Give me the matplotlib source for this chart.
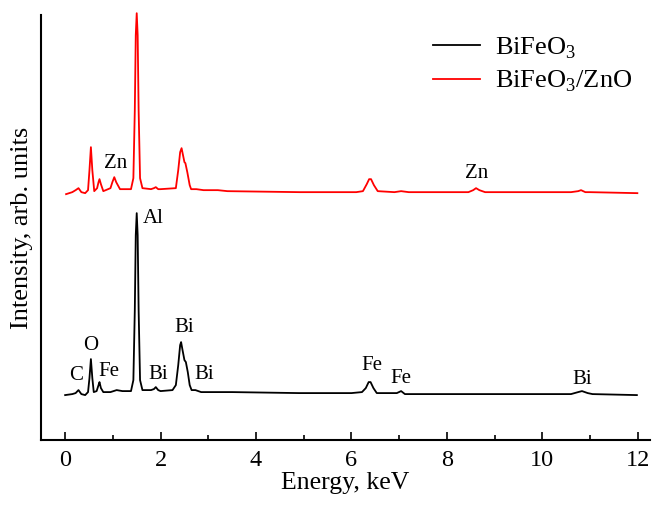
import numpy as np
import matplotlib
matplotlib.use("Agg")
import matplotlib.pyplot as plt

plt.rcParams['font.family'] = ['Liberation Serif', 'DejaVu Serif']
plt.rcParams['mathtext.fontset'] = 'custom'
plt.rcParams['mathtext.rm'] = 'Liberation Serif'

# BiFeO3 spectrum (energy keV, intensity arb. units)
bfo_e = [0.00, 0.15, 0.22, 0.28, 0.34, 0.42, 0.48, 0.51, 0.54, 0.57, 0.60, 0.66,
         0.70, 0.72, 0.75, 0.80, 0.95, 1.08, 1.20, 1.38, 1.43, 1.46, 1.48, 1.50,
         1.52, 1.54, 1.57, 1.62, 1.80, 1.86, 1.90, 1.95, 2.00, 2.25, 2.32, 2.37,
         2.41, 2.43, 2.46, 2.50, 2.53, 2.57, 2.61, 2.65, 2.73, 2.85, 3.50, 4.90,
         6.00, 6.22, 6.30, 6.36, 6.40, 6.46, 6.53, 6.70, 6.95, 7.04, 7.12, 8.50,
         10.60, 10.75, 10.83, 10.95, 11.05, 11.98]
bfo_i = [45, 46, 47, 50, 46, 45, 48, 62, 81, 62, 48, 49,
         55, 58, 52, 48, 48, 50, 49, 49, 60, 130, 205, 227,
         205, 130, 60, 50, 50, 51, 53, 50, 49, 50, 55, 75,
         95, 98, 90, 80, 78, 68, 55, 50, 50, 48, 48, 47,
         47, 48, 52, 58, 58, 52, 47, 47, 47, 49, 46, 46,
         46, 48, 49, 47, 46, 45]

# BiFeO3/ZnO spectrum
zno_e = [0.02, 0.15, 0.22, 0.28, 0.34, 0.42, 0.48, 0.51, 0.54, 0.57, 0.61, 0.67,
         0.70, 0.72, 0.75, 0.80, 0.95, 0.99, 1.03, 1.07, 1.15, 1.38, 1.43, 1.46,
         1.48, 1.50, 1.52, 1.54, 1.57, 1.62, 1.80, 1.86, 1.90, 1.95, 2.00, 2.32,
         2.37, 2.41, 2.44, 2.47, 2.50, 2.52, 2.56, 2.61, 2.64, 2.75, 2.90, 3.20,
         3.40, 4.92, 6.10, 6.24, 6.32, 6.37, 6.41, 6.47, 6.55, 6.90, 7.04, 7.20,
         8.45, 8.55, 8.61, 8.68, 8.80, 10.60, 10.75, 10.81, 10.90, 11.00, 11.99]
zno_i = [246, 248, 250, 252, 248, 247, 250, 270, 293, 270, 249, 252,
         258, 261, 256, 249, 252, 258, 263, 258, 251, 251, 262, 330,
         405, 427, 405, 330, 262, 252, 251, 252, 253, 251, 251, 252,
         270, 288, 292, 285, 278, 277, 268, 255, 251, 251, 250, 250,
         249, 248, 248, 249, 256, 261, 261, 255, 249, 248, 249, 248,
         248, 250, 252, 250, 248, 248, 249, 250, 248, 248, 247]

# peak labels
labels = ['C', 'O', 'Fe', 'Al', 'Bi', 'Bi', 'Bi', 'Fe', 'Fe', 'Bi', 'Zn', 'Zn']
lab_e = [0.23, 0.54, 0.91, 1.62, 1.95, 2.49, 2.91, 6.43, 7.04, 10.84, 1.05, 8.63]
lab_i = [65, 95, 69, 222, 66, 113, 66, 75, 62, 61, 277, 267]

fig = plt.figure(figsize=(6.55, 5.07), dpi=100)
ax = fig.add_axes([0.063, 0.132, 0.929, 0.838])

ax.plot(bfo_e, bfo_i, color='black', lw=1.3, label='BiFeO$_3$')
ax.plot(zno_e, zno_i, color='red', lw=1.3, label='BiFeO$_3$/ZnO', clip_on=False)

for t, e, i in zip(labels, lab_e, lab_i):
    ha = 'left' if t == 'Al' else 'center'
    ax.text(e, i, t, fontsize=15, ha=ha, va='center')

ax.set_xlim(-0.5, 12.25)
ax.set_ylim(0, 425)
ax.set_xticks(np.arange(0, 13, 2))
ax.set_xticks(np.arange(0, 13, 1), minor=True)
ax.set_yticks([])
ax.tick_params(axis='x', which='major', direction='in', length=6, width=1.2, labelsize=17.5, pad=7)
ax.tick_params(axis='x', which='minor', direction='in', length=3.5, width=1.2)
for s in ['top', 'right']:
    ax.spines[s].set_visible(False)
for s in ['left', 'bottom']:
    ax.spines[s].set_linewidth(1.5)

ax.set_xlabel('Energy, keV', fontsize=18.5, labelpad=1)
ax.set_ylabel('Intensity, arb. units', fontsize=19, labelpad=6)

ax.legend(loc='upper right', bbox_to_anchor=(1.011, 1.008), frameon=False, fontsize=19,
          handlelength=1.75, handletextpad=0.6, labelspacing=0.3)

fig.savefig('out.png', dpi=100)
